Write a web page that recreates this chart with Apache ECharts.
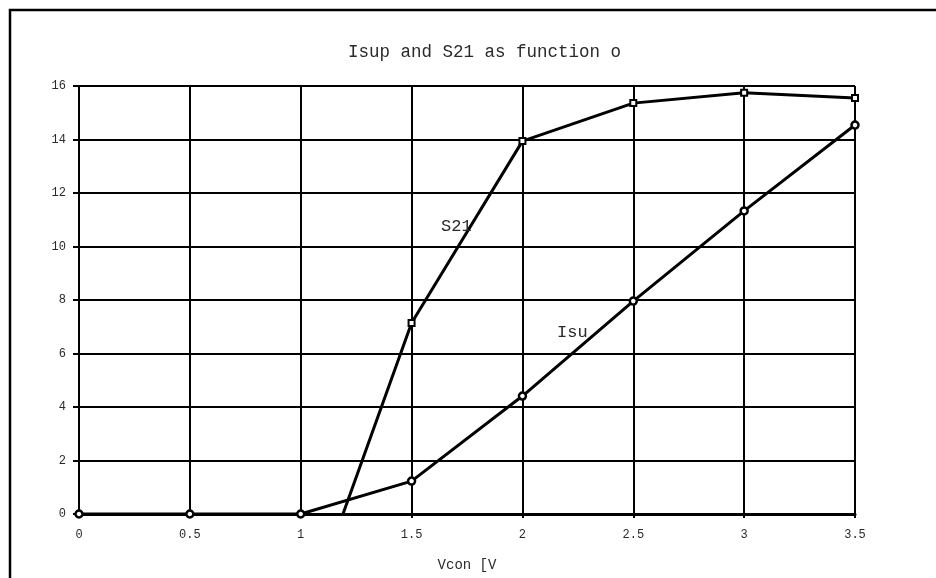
<!DOCTYPE html>
<html>
<head>
<meta charset="utf-8">
<script src="https://cdn.jsdelivr.net/npm/echarts@6/dist/echarts.min.js"></script>
<style>
  html, body { margin: 0; padding: 0; background: #fff; }
  #chart { width: 936px; height: 578px; }
</style>
</head>
<body>
<div id="chart"></div>
<script>
// values
const vcon = [0, 0.5, 1, 1.5, 2, 2.5, 3, 3.5];
const isup = [0, 0, 0, 1.23, 4.41, 7.96, 11.33, 14.54];
// S21 below 1 V runs off the bottom of the plot
const s21 = [null, null, -4.4, 7.14, 13.94, 15.36, 15.75, 15.55];
const xTicks = ['0', '0.5', '1', '1.5', '2', '2.5', '3', '3.5'];

const mono = '"Liberation Mono", "DejaVu Sans Mono", monospace';
const ink = '#000';
const textInk = '#2a2a2a';

const chart = echarts.init(document.getElementById('chart'));

function pairs(ys) {
  return vcon.map((x, i) => [x, ys[i]]).filter(p => p[1] !== null);
}

chart.setOption({
  animation: false,
  title: {
    text: 'Isup and S21 as function o',
    left: 343,
    top: 38,
    textStyle: { fontFamily: mono, fontSize: 17.5, fontWeight: 'normal', color: textInk }
  },
  grid: { left: 79, right: 81, top: 86, bottom: 64 },
  xAxis: {
    type: 'value',
    min: 0, max: 3.5, interval: 0.5,
    name: 'Vcon [V',
    nameLocation: 'middle',
    nameGap: 44,
    nameTextStyle: { fontFamily: mono, fontSize: 14, color: textInk },
    axisLine: { show: true, lineStyle: { color: ink, width: 3 } },
    axisTick: { show: true, length: 4, lineStyle: { color: ink, width: 2 } },
    splitLine: { show: true, lineStyle: { color: ink, width: 2 } },
    axisLabel: {
      margin: 15,
      fontFamily: mono, fontSize: 12, color: textInk,
      formatter: v => xTicks[Math.round(v / 0.5)]
    }
  },
  yAxis: {
    type: 'value',
    min: 0, max: 16, interval: 2,
    axisLine: { show: true, lineStyle: { color: ink, width: 2 } },
    axisTick: { show: true, length: 6, lineStyle: { color: ink, width: 2 } },
    splitLine: { show: true, lineStyle: { color: ink, width: 2 } },
    axisLabel: { margin: 13, fontFamily: mono, fontSize: 12, color: textInk }
  },
  series: [
    {
      name: 'S21',
      type: 'line',
      data: pairs(s21),
      clip: true,
      symbol: 'rect',
      symbolSize: 6,
      lineStyle: { color: ink, width: 3 },
      itemStyle: { color: '#fff', borderColor: ink, borderWidth: 2 },
      z: 3,
      markPoint: {
        symbol: 'circle', symbolSize: 0,
        data: [{ coord: [1.633, 10.73], value: 'S21' }],
        label: {
          show: true, position: 'right', distance: 0,
          formatter: 'S21',
          fontFamily: mono, fontSize: 17, color: textInk
        }
      }
    },
    {
      name: 'Isup',
      type: 'line',
      data: pairs(isup),
      clip: true,
      symbol: 'circle',
      symbolSize: 7,
      lineStyle: { color: ink, width: 3 },
      itemStyle: { color: '#fff', borderColor: ink, borderWidth: 2.5 },
      z: 3,
      markPoint: {
        symbol: 'circle', symbolSize: 0,
        data: [{ coord: [2.156, 6.77], value: 'Isup' }],
        label: {
          show: true, position: 'right', distance: 0,
          formatter: 'Isu',
          fontFamily: mono, fontSize: 17, color: textInk
        }
      }
    }
  ],
  graphic: [
    {
      type: 'polyline',
      shape: { points: [[10, 590], [10, 10], [940, 10]] },
      style: { stroke: ink, lineWidth: 2.5, fill: null }
    }
  ]
});
</script>
</body>
</html>
